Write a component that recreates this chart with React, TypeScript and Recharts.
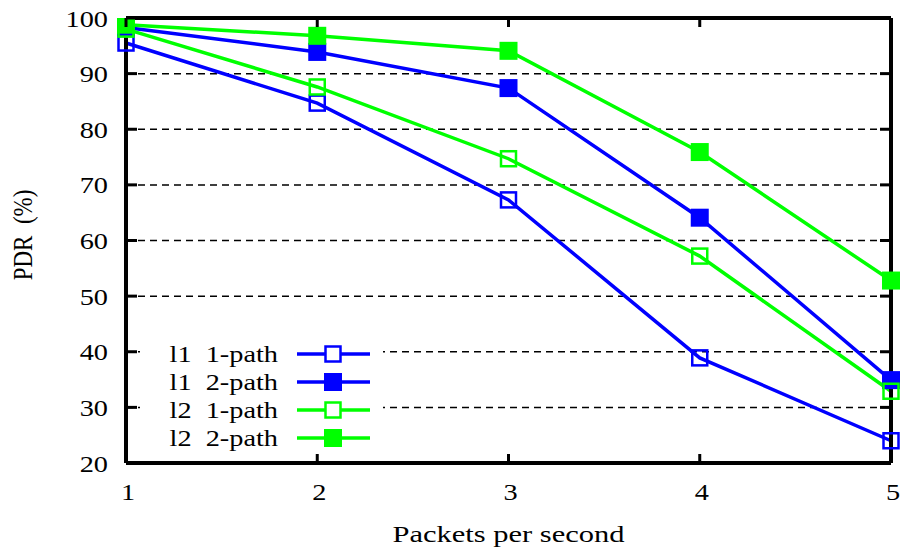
import React from "react";
import { LineChart, Line, XAxis, YAxis, ReferenceLine, Legend } from "recharts";

const packets = [1, 2, 3, 4, 5];
const l1OnePath = [95.5, 84.7, 67.3, 38.9, 24.0];
const l1TwoPath = [98.3, 93.9, 87.4, 64.1, 34.9];
const l2OnePath = [98.0, 87.6, 74.7, 57.2, 32.9];
const l2TwoPath = [98.8, 96.8, 94.1, 75.9, 52.8];
const yTicks = [20, 30, 40, 50, 60, 70, 80, 90, 100];
const xTicks = [1, 2, 3, 4, 5];
const gridValues = [30, 40, 50, 60, 70, 80, 90];

const seriesInfo = [
  { key: "l1a", name: "l1  1-path", color: "#0000ff", filled: false },
  { key: "l1b", name: "l1  2-path", color: "#0000ff", filled: true },
  { key: "l2a", name: "l2  1-path", color: "#00ff00", filled: false },
  { key: "l2b", name: "l2  2-path", color: "#00ff00", filled: true },
];

const data = packets.map((p, i) => ({
  x: p,
  l1a: l1OnePath[i],
  l1b: l1TwoPath[i],
  l2a: l2OnePath[i],
  l2b: l2TwoPath[i],
}));

const FONT = "'Liberation Serif', 'DejaVu Serif', serif";
const SX = 1.18;

const LeftTick = (props: any) => {
  const { x, y, payload } = props;
  return (
    <g>
      <line x1={x} x2={x + 11} y1={y} y2={y} stroke="#000" strokeWidth={3} />
      <g transform={`translate(${x - 18},${y + 8.5}) scale(${SX},1)`}>
        <text textAnchor="end" fontFamily={FONT} fontSize={24} fill="#000">
          {payload.value}
        </text>
      </g>
    </g>
  );
};

const RightTick = (props: any) => {
  const { x, y } = props;
  return <line x1={x} x2={x - 11} y1={y} y2={y} stroke="#000" strokeWidth={3} />;
};

const BottomTick = (props: any) => {
  const { x, y, payload } = props;
  return (
    <g>
      <line x1={x} x2={x} y1={y} y2={y - 9} stroke="#000" strokeWidth={3} />
      <g transform={`translate(${x + 2},${y + 37}) scale(${SX},1)`}>
        <text textAnchor="middle" fontFamily={FONT} fontSize={24} fill="#000">
          {payload.value}
        </text>
      </g>
    </g>
  );
};

const TopTick = (props: any) => {
  const { x, y } = props;
  return <line x1={x} x2={x} y1={y} y2={y + 9} stroke="#000" strokeWidth={3} />;
};

const makeDot = (color: string, filled: boolean) => (props: any) => {
  const { cx, cy, index } = props;
  if (cx == null || cy == null) return <g key={index} />;
  if (filled) {
    return <rect key={index} x={cx - 9} y={cy - 9} width={18} height={18} fill={color} />;
  }
  return (
    <rect
      key={index}
      x={cx - 7.5}
      y={cy - 7.5}
      width={15}
      height={15}
      fill="none"
      stroke={color}
      strokeWidth={2.5}
    />
  );
};

const LegendContent = () => (
  <svg width={243} height={114} style={{ display: "block" }}>
    {seriesInfo.map((s, i) => {
      const cy = 16 + i * 28;
      return (
        <g key={s.key}>
          <g transform={`translate(138,${cy + 8}) scale(${SX},1)`}>
            <text
              textAnchor="end"
              fontFamily={FONT}
              fontSize={24}
              fill="#000"
              style={{ whiteSpace: "pre" }}
            >
              {s.name}
            </text>
          </g>
          <line x1={157} x2={230} y1={cy} y2={cy} stroke={s.color} strokeWidth={3.5} />
          {s.filled ? (
            <rect x={193 - 9} y={cy - 9} width={18} height={18} fill={s.color} />
          ) : (
            <rect
              x={193 - 7.5}
              y={cy - 7.5}
              width={15}
              height={15}
              fill="#fff"
              stroke={s.color}
              strokeWidth={2.5}
            />
          )}
        </g>
      );
    })}
  </svg>
);

export default function App() {
  return (
    <div style={{ position: "absolute", left: 0, top: 0, width: 903, height: 552, background: "#fff" }}>
      <LineChart width={903} height={552} data={data} margin={{ top: 0, right: 0, bottom: 0, left: 0 }}>
        <XAxis
          xAxisId="b"
          dataKey="x"
          type="number"
          domain={[1, 5]}
          ticks={xTicks}
          orientation="bottom"
          height={89}
          axisLine={{ stroke: "#000", strokeWidth: 4 }}
          tickLine={false}
          tickSize={0}
          tickMargin={0}
          tick={<BottomTick />}
          interval={0}
          label={
            <g>
              <g transform={`translate(508.5,542) scale(1.27,1)`}>
                <text textAnchor="middle" fontFamily={FONT} fontSize={24} fill="#000">
                  Packets per second
                </text>
              </g>
            </g>
          }
        />
        <XAxis
          xAxisId="t"
          dataKey="x"
          type="number"
          domain={[1, 5]}
          ticks={xTicks}
          orientation="top"
          height={18}
          axisLine={{ stroke: "#000", strokeWidth: 4 }}
          tickLine={false}
          tickSize={0}
          tickMargin={0}
          tick={<TopTick />}
          interval={0}
          allowDataOverflow
        />
        <YAxis
          yAxisId="l"
          type="number"
          domain={[20, 100]}
          ticks={yTicks}
          orientation="left"
          width={126}
          axisLine={{ stroke: "#000", strokeWidth: 4 }}
          tickLine={false}
          tickSize={0}
          tickMargin={0}
          tick={<LeftTick />}
          interval={0}
          allowDataOverflow
          label={
            <g transform="translate(32,235) rotate(-90) scale(1,1.18)">
              <text
                textAnchor="middle"
                fontFamily={FONT}
                fontSize={23}
                fill="#000"
                style={{ whiteSpace: "pre" }}
              >
                {"PDR  (%)"}
              </text>
            </g>
          }
        />
        <YAxis
          yAxisId="r"
          type="number"
          domain={[20, 100]}
          ticks={yTicks}
          orientation="right"
          width={12}
          axisLine={{ stroke: "#000", strokeWidth: 4 }}
          tickLine={false}
          tickSize={0}
          tickMargin={0}
          tick={<RightTick />}
          interval={0}
          allowDataOverflow
        />
        {gridValues.map((v) => (
          <ReferenceLine
            key={v}
            xAxisId="b"
            yAxisId="l"
            y={v}
            stroke="#000"
            strokeWidth={1.5}
            strokeDasharray="7 5"
          />
        ))}
        {seriesInfo.map((s) => (
          <Line
            key={s.key}
            xAxisId="b"
            yAxisId="l"
            type="linear"
            dataKey={s.key}
            name={s.name}
            stroke={s.color}
            strokeWidth={3.5}
            dot={makeDot(s.color, s.filled)}
            activeDot={false}
            isAnimationActive={false}
          />
        ))}
        <Legend
          layout="vertical"
          align="center"
          verticalAlign="middle"
          content={<LegendContent />}
          wrapperStyle={{ left: 140, top: 338, width: 243, height: 114, background: "#fff" }}
        />
      </LineChart>
    </div>
  );
}
